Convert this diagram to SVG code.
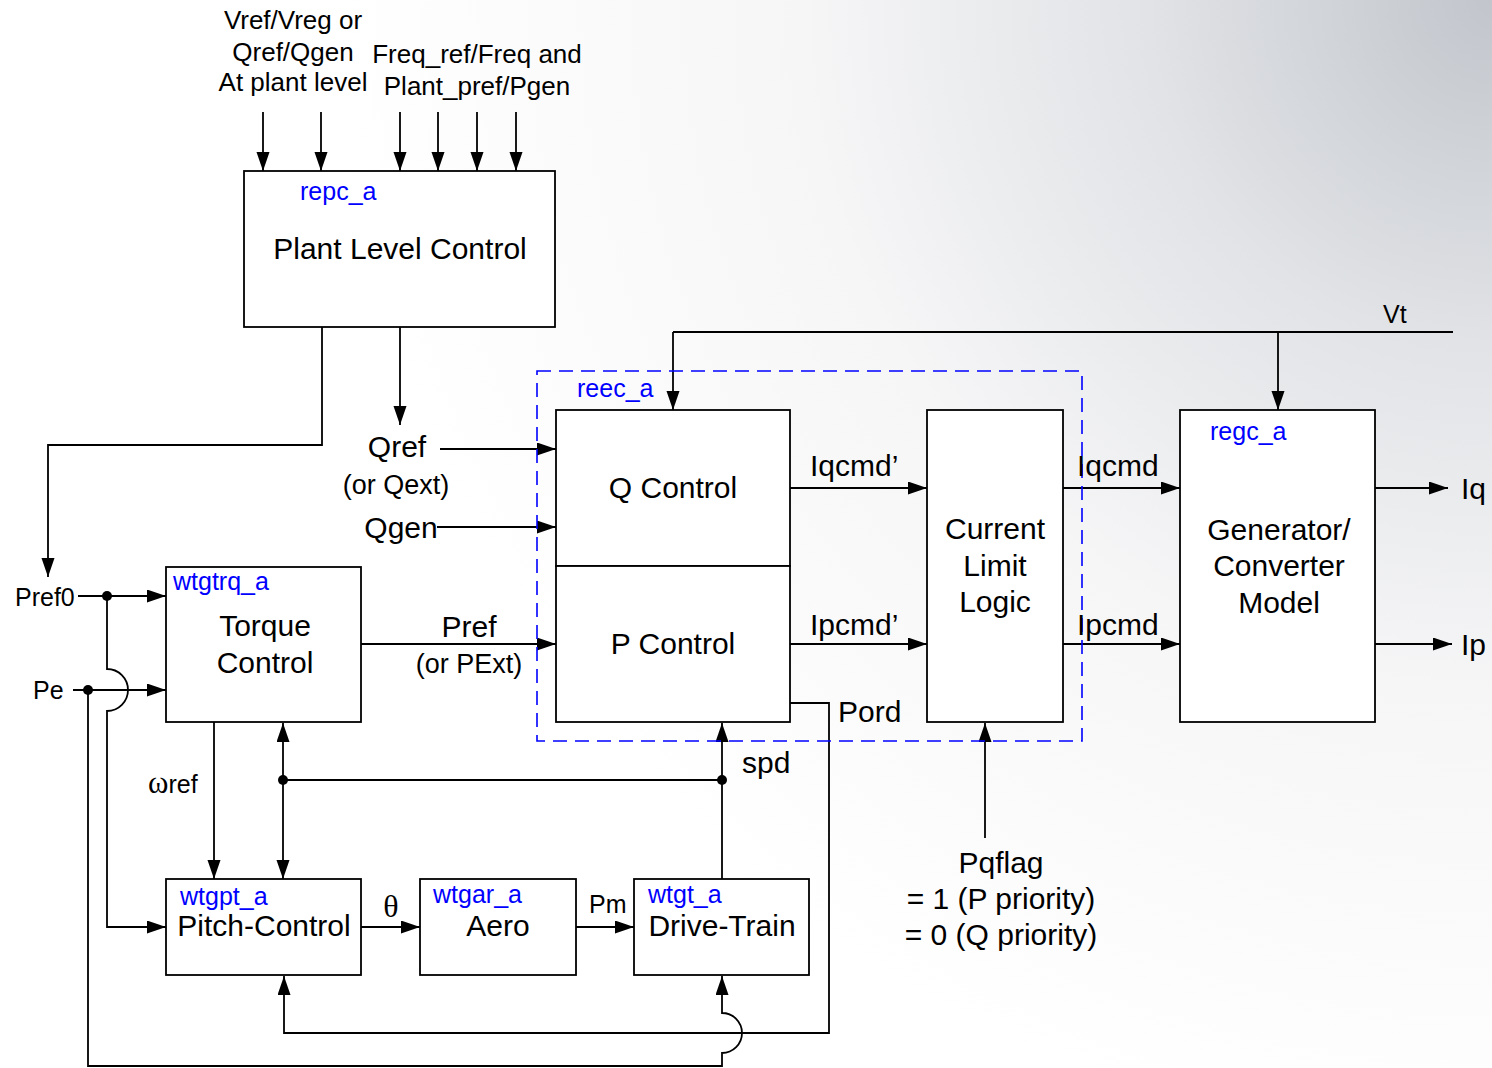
<svg xmlns="http://www.w3.org/2000/svg" width="1492" height="1068" viewBox="0 0 1492 1068">
<defs>
<radialGradient id="bg" gradientUnits="userSpaceOnUse" cx="1492" cy="0" r="1150">
<stop offset="0" stop-color="#c2c6cc"/>
<stop offset="0.3" stop-color="#e1e3e6"/>
<stop offset="0.6" stop-color="#f6f6f7"/>
<stop offset="1" stop-color="#ffffff"/>
</radialGradient>
<marker id="arr" markerUnits="userSpaceOnUse" markerWidth="20" markerHeight="14" refX="19" refY="6.5" orient="auto-start-reverse">
<path d="M0,0 L19,6.5 L0,13 z" fill="#000"/>
</marker>
<style>
.box{fill:#fff;stroke:#000;stroke-width:1.8}
.ln{fill:none;stroke:#000;stroke-width:1.8}
.ar{fill:none;stroke:#000;stroke-width:1.8;marker-end:url(#arr)}
.dot{fill:#000}
text{font-family:"Liberation Sans",Arial,sans-serif;fill:#000}
.m{font-size:30px}
.s{font-size:25px}
.t{font-size:26px}
.p{font-size:27px}
.b{font-size:25px;fill:#0000ff}
.c{text-anchor:middle}
.serif{font-family:"Liberation Serif","Times New Roman",serif}
</style>
</defs>
<rect width="1492" height="1068" fill="url(#bg)"/>

<g id="connectors">
<path class="ar" d="M263,112 V171"/>
<path class="ar" d="M321,112 V171"/>
<path class="ar" d="M400,112 V171"/>
<path class="ar" d="M438,112 V171"/>
<path class="ar" d="M477,112 V171"/>
<path class="ar" d="M516,112 V171"/>
<path class="ar" d="M322,327 V445 H48 V577"/>
<path class="ar" d="M400,327 V425"/>
<path class="ln" d="M1453,332 H673"/>
<path class="ar" d="M673,332 V410"/>
<path class="ar" d="M1278,332 V410"/>
<path class="ar" d="M440,449 H556"/>
<path class="ar" d="M437,527 H556"/>
<path class="ar" d="M361,644 H556"/>
<path class="ar" d="M790,488 H927"/>
<path class="ar" d="M790,644 H927"/>
<path class="ar" d="M1063,488 H1180"/>
<path class="ar" d="M1063,644 H1180"/>
<path class="ar" d="M1375,488 H1448"/>
<path class="ar" d="M1375,644 H1452"/>
<path class="ar" d="M78,596 H166"/>
<path class="ar" d="M107,596 V669 A21,21 0 0 1 107,711 V927 H166"/>
<circle class="dot" cx="107" cy="596" r="5"/>
<path class="ar" d="M73,690 H166"/>
<path class="ar" d="M88,690 V1066 H722 V1053 A20,20 0 0 0 722,1013 V976"/>
<circle class="dot" cx="88" cy="690" r="5"/>
<path class="ar" d="M214,722 V879"/>
<path class="ar" d="M283,780 V879"/>
<path class="ar" d="M283,780 V723"/>
<path class="ln" d="M283,780 H722"/>
<circle class="dot" cx="283" cy="780" r="5"/>
<circle class="dot" cx="722" cy="780" r="5"/>
<path class="ar" d="M722,879 V723"/>
<path class="ar" d="M361,927 H420"/>
<path class="ar" d="M576,927 H634"/>
<path class="ar" d="M790,703 H829 V1033 H284 V976"/>
<path class="ar" d="M985,838 V723"/>
</g>

<g id="repc">
<rect class="box" x="244" y="171" width="311" height="156"/>
<text class="b" x="300" y="200">repc_a</text>
<text class="m c" x="400" y="259">Plant Level Control</text>
</g>

<g id="reec">
<rect x="537" y="371" width="545" height="370" fill="none" stroke="#0000ff" stroke-width="1.6" stroke-dasharray="14 8"/>
<text class="b" x="577" y="397">reec_a</text>
</g>
<g id="qcontrol">
<rect class="box" x="556" y="410" width="234" height="156"/>
<text class="m c" x="673" y="498">Q Control</text>
</g>
<g id="pcontrol">
<rect class="box" x="556" y="566" width="234" height="156"/>
<text class="m c" x="673" y="654">P Control</text>
</g>
<g id="cll">
<rect class="box" x="927" y="410" width="136" height="312"/>
<text class="m c" x="995" y="539">Current</text>
<text class="m c" x="995" y="576">Limit</text>
<text class="m c" x="995" y="612">Logic</text>
</g>
<g id="regc">
<rect class="box" x="1180" y="410" width="195" height="312"/>
<text class="b" x="1210" y="440">regc_a</text>
<text class="m c" x="1279" y="540">Generator/</text>
<text class="m c" x="1279" y="576">Converter</text>
<text class="m c" x="1279" y="613">Model</text>
</g>
<g id="wtgtrq">
<rect class="box" x="166" y="567" width="195" height="155"/>
<text class="b" x="173" y="590">wtgtrq_a</text>
<text class="m c" x="265" y="636">Torque</text>
<text class="m c" x="265" y="673">Control</text>
</g>
<g id="wtgpt">
<rect class="box" x="166" y="879" width="195" height="96"/>
<text class="b" x="180" y="905">wtgpt_a</text>
<text class="m c" x="264" y="936">Pitch-Control</text>
</g>
<g id="wtgar">
<rect class="box" x="420" y="879" width="156" height="96"/>
<text class="b" x="433" y="903">wtgar_a</text>
<text class="m c" x="498" y="936">Aero</text>
</g>
<g id="wtgt">
<rect class="box" x="634" y="879" width="175" height="96"/>
<text class="b" x="648" y="903">wtgt_a</text>
<text class="m c" x="722" y="936">Drive-Train</text>
</g>

<g id="labels">
<text class="t c" x="293" y="29">Vref/Vreg or</text>
<text class="t c" x="293" y="61">Qref/Qgen</text>
<text class="t c" x="293" y="91">At plant level</text>
<text class="t c" x="477" y="63">Freq_ref/Freq and</text>
<text class="t c" x="477" y="95">Plant_pref/Pgen</text>
<text class="s" x="1383" y="323">Vt</text>
<text class="m c" x="397" y="457">Qref</text>
<text class="p c" x="396" y="494">(or Qext)</text>
<text class="m c" x="401" y="538">Qgen</text>
<text class="m c" x="469" y="637">Pref</text>
<text class="p c" x="469" y="673">(or PExt)</text>
<text class="m" x="810" y="476">Iqcmd’</text>
<text class="m" x="810" y="635">Ipcmd’</text>
<text class="m" x="1077" y="476">Iqcmd</text>
<text class="m" x="1077" y="635">Ipcmd</text>
<text class="m" x="1461" y="499">Iq</text>
<text class="m" x="1461" y="655">Ip</text>
<text class="s" x="15" y="606">Pref0</text>
<text class="s" x="33" y="699">Pe</text>
<text class="m" x="838" y="722">Pord</text>
<text class="m" x="742" y="773">spd</text>
<text class="s" x="148" y="793"><tspan class="serif" font-size="31">ω</tspan>ref</text>
<text class="serif c" font-size="32" x="391" y="917">θ</text>
<text class="s" x="589" y="913">Pm</text>
<text class="m c" x="1001" y="873">Pqflag</text>
<text class="m c" x="1001" y="909">= 1 (P priority)</text>
<text class="m c" x="1001" y="945">= 0 (Q priority)</text>
</g>
</svg>
